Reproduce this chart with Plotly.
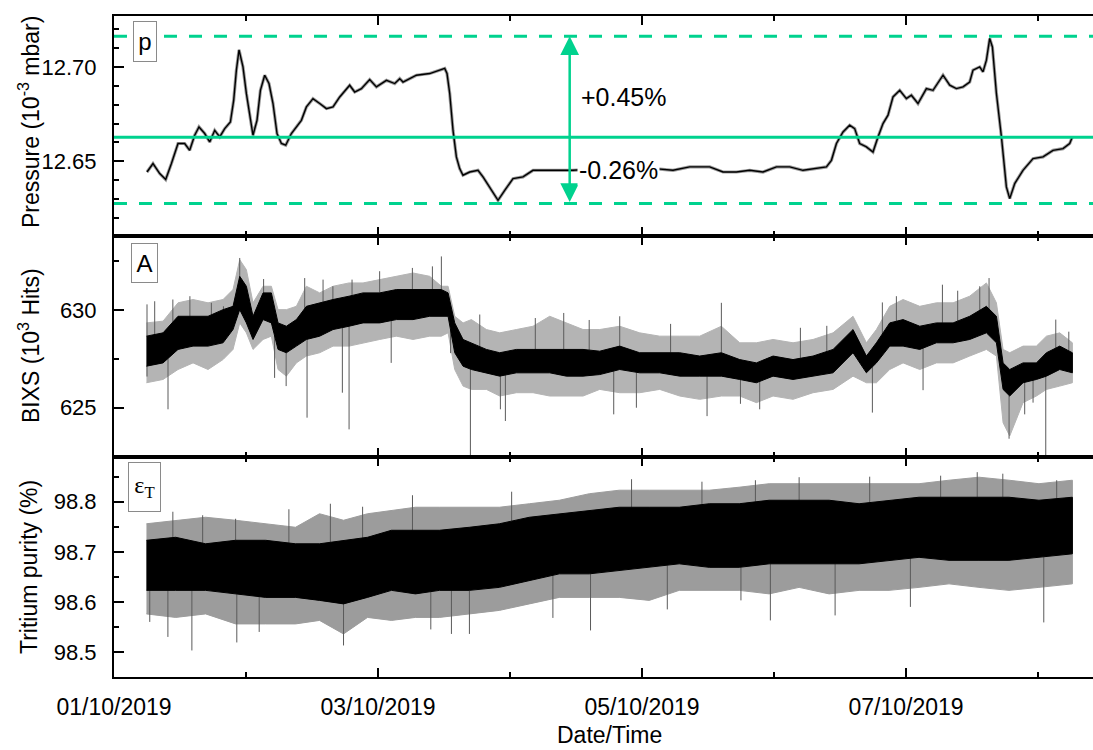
import numpy as np
import pandas as pd
import plotly.graph_objects as go
from plotly.subplots import make_subplots

T0 = pd.Timestamp("2019-10-01 00:00")
FONT = "Arial, Liberation Sans, sans-serif"
SERIF = "Times New Roman, Liberation Serif, serif"
GREEN = "#00D28E"

# ---------------- pressure (10^-3 mbar), hours since 01/10/2019 00:00 ----------------
p_hours = [6.00, 7.09, 8.31, 9.40, 10.44, 11.64, 12.85, 13.76, 14.67, 15.45,
           16.49, 17.40, 18.31, 19.22, 20.13, 21.16, 21.76, 22.25, 22.73, 23.45,
           24.07, 24.67, 25.27, 26.00, 26.62, 27.40, 28.18, 28.91, 29.64, 30.44,
           31.22, 32.25, 33.16, 34.07, 34.98, 36.18, 37.40, 38.62, 39.82, 41.04,
           42.85, 43.76, 44.98, 46.49, 47.71, 49.53, 51.04, 51.95, 52.55, 54.98,
           57.40, 59.22, 60.13, 60.55, 61.04, 61.64, 62.25, 62.85, 63.45, 64.67,
           66.18, 67.09, 68.31, 69.22, 69.82, 71.04, 72.55, 74.36, 76.18, 78.62,
           81.04, 83.45, 88.31, 93.76, 98.31, 101.64, 104.67, 108.31, 110.73, 113.16,
           115.58, 118.00, 120.44, 122.86, 125.27, 127.71, 129.53, 130.44, 131.35, 132.55,
           133.76, 134.67, 135.58, 136.80, 138.00, 138.91, 139.82, 140.73, 141.64, 142.86,
           144.07, 144.98, 146.18, 147.71, 148.91, 150.73, 151.95, 153.16, 154.36, 155.58,
           156.18, 157.40, 158.00, 158.62, 159.22, 159.71, 160.44, 161.35, 162.25, 162.86,
           163.77, 165.27, 167.09, 168.91, 170.73, 172.55, 173.76, 174.25]
p_vals = [12.6443, 12.6488, 12.6435, 12.6403, 12.6488, 12.6594, 12.6594, 12.6558, 12.6638, 12.6682,
          12.6647, 12.6602, 12.6664, 12.6629, 12.6673, 12.6708, 12.6823, 12.6983, 12.7090, 12.7000,
          12.6859, 12.6753, 12.6638, 12.6717, 12.6876, 12.6956, 12.6912, 12.6806, 12.6647, 12.6594,
          12.6585, 12.6647, 12.6682, 12.6717, 12.6788, 12.6832, 12.6806, 12.6779, 12.6788, 12.6841,
          12.6903, 12.6867, 12.6885, 12.6933, 12.6894, 12.6929, 12.6912, 12.6938, 12.6920, 12.6956,
          12.6965, 12.6983, 12.6992, 12.6965, 12.6859, 12.6664, 12.6523, 12.6461, 12.6426, 12.6443,
          12.6452, 12.6417, 12.6364, 12.6320, 12.6293, 12.6346, 12.6408, 12.6417, 12.6452, 12.6452,
          12.6452, 12.6452, 12.6461, 12.6452, 12.6461, 12.6452, 12.6470, 12.6470, 12.6443, 12.6443,
          12.6452, 12.6443, 12.6470, 12.6470, 12.6452, 12.6461, 12.6470, 12.6505, 12.6594, 12.6655,
          12.6691, 12.6673, 12.6594, 12.6576, 12.6549, 12.6629, 12.6700, 12.6744, 12.6841, 12.6876,
          12.6832, 12.6850, 12.6806, 12.6885, 12.6876, 12.6956, 12.6903, 12.6885, 12.6894, 12.6920,
          12.6983, 12.7000, 12.6974, 12.7036, 12.7151, 12.7106, 12.6859, 12.6629, 12.6364, 12.6302,
          12.6382, 12.6452, 12.6514, 12.6523, 12.6558, 12.6567, 12.6594, 12.6629]
p_mean = 12.6627
p_upper = 12.7163
p_lower = 12.6276
p_arrow_hour = 82.85
p_up_label = "+0.45%"
p_down_label = "-0.26%"

# ---------------- BIXS count rate (10^3 hits): dense band and its outer fringe ----------------
a_hours = [5.90, 8.92, 11.64, 14.37, 17.10, 19.83, 21.64, 22.86, 24.07, 25.28,
           27.10, 28.61, 29.83, 31.34, 33.16, 34.98, 37.40, 39.83, 42.74, 45.28,
           48.31, 51.34, 54.37, 57.40, 59.52, 60.74, 61.95, 63.47, 64.98, 67.71,
           70.13, 73.16, 76.19, 79.22, 82.25, 85.28, 88.31, 91.95, 95.58, 99.22,
           102.86, 106.49, 110.43, 113.77, 116.80, 119.83, 123.46, 127.10, 130.74, 134.37,
           136.80, 138.62, 141.04, 143.47, 146.50, 149.53, 152.56, 155.58, 158.62, 160.44,
           161.65, 162.86, 165.28, 167.71, 169.53, 171.95, 174.25]
a_core_hi = [628.67, 628.84, 629.69, 629.69, 629.69, 630.03, 630.20, 631.74, 631.23, 629.69,
             630.89, 630.89, 629.35, 629.18, 629.52, 630.20, 630.38, 630.55, 630.72, 630.89,
             630.89, 631.06, 631.06, 631.06, 631.06, 630.89, 629.35, 628.50, 628.33, 627.99,
             627.82, 627.99, 627.99, 627.99, 627.99, 627.99, 627.90, 628.16, 627.82, 627.82,
             627.82, 627.65, 627.82, 627.47, 627.30, 627.65, 627.47, 627.65, 627.99, 629.01,
             627.65, 628.33, 629.35, 629.52, 629.18, 629.35, 629.35, 629.69, 630.20, 629.69,
             627.30, 626.96, 627.30, 627.30, 627.82, 628.16, 627.82]
a_core_lo = [627.13, 627.30, 627.99, 628.16, 628.16, 628.33, 629.01, 630.03, 629.35, 628.50,
             629.52, 629.35, 627.99, 627.82, 628.16, 628.50, 628.67, 629.01, 629.18, 629.35,
             629.35, 629.52, 629.52, 629.69, 629.69, 629.69, 627.82, 627.13, 626.96, 626.79,
             626.62, 626.79, 626.79, 626.79, 626.62, 626.62, 626.70, 626.96, 626.79, 626.79,
             626.62, 626.62, 626.62, 626.45, 626.28, 626.62, 626.45, 626.62, 626.79, 627.82,
             626.79, 627.30, 628.16, 628.16, 627.99, 628.33, 628.33, 628.50, 628.84, 628.33,
             625.94, 625.60, 626.28, 626.45, 626.62, 626.96, 626.79]
a_outer_hi = [629.35, 629.44, 630.38, 630.55, 630.38, 630.55, 631.06, 632.59, 632.08, 630.38,
              631.23, 631.23, 630.03, 630.03, 630.20, 631.23, 630.89, 631.23, 631.40, 631.40,
              631.57, 631.74, 631.91, 631.74, 631.23, 631.23, 629.69, 629.35, 629.52, 629.01,
              628.84, 629.01, 629.18, 629.69, 629.35, 629.01, 629.01, 629.18, 628.84, 628.67,
              628.67, 628.67, 629.18, 628.33, 628.33, 628.50, 628.33, 628.50, 628.84, 629.69,
              628.33, 629.01, 630.20, 630.55, 630.20, 630.38, 630.38, 630.72, 631.40, 630.38,
              627.99, 627.82, 628.16, 628.16, 628.67, 628.84, 628.33]
a_outer_lo = [626.28, 626.45, 626.96, 627.30, 626.96, 627.47, 627.99, 629.35, 628.84, 627.99,
              628.50, 628.67, 626.96, 626.62, 627.30, 627.65, 627.82, 628.16, 628.16, 628.33,
              628.50, 628.67, 628.50, 628.67, 628.67, 628.84, 626.96, 626.11, 625.94, 625.94,
              625.60, 625.77, 625.77, 625.60, 625.60, 625.60, 625.94, 625.77, 625.77, 625.94,
              625.60, 625.43, 625.60, 625.60, 625.26, 625.60, 625.43, 625.77, 625.94, 626.62,
              626.28, 626.28, 626.96, 627.30, 626.96, 627.30, 627.30, 627.65, 627.99, 627.65,
              624.23, 623.55, 625.26, 625.60, 625.94, 626.11, 626.28]
# isolated single readings well outside the band
a_spike_hours = [6.00, 6.00, 7.40, 9.82, 10.70, 13.80, 17.70, 19.90, 22.86, 27.20,
                 29.20, 31.30, 34.67, 35.10, 38.01, 39.80, 41.52, 42.74, 43.28, 48.30,
                 50.40, 54.25, 57.89, 59.52, 61.20, 64.80, 66.50, 70.25, 71.16, 76.60,
                 81.77, 86.40, 90.86, 91.95, 94.98, 101.20, 107.83, 110.43, 113.90, 117.40,
                 124.80, 129.60, 137.89, 139.70, 142.25, 147.10, 150.62, 153.40, 157.41, 159.10,
                 162.74, 165.58, 167.10, 169.41, 171.23, 173.60]
a_spike_vals = [630.30, 626.60, 630.46, 624.92, 630.55, 630.72, 630.38, 630.20, 632.68, 631.60,
                626.53, 626.11, 631.65, 624.49, 631.57, 631.23, 625.77, 623.89, 631.57, 632.00,
                627.30, 632.17, 632.25, 632.76, 627.80, 622.30, 629.78, 624.92, 624.32, 629.60,
                629.86, 629.50, 624.66, 629.69, 625.00, 629.30, 624.57, 630.38, 625.20, 624.92,
                629.10, 629.20, 624.75, 630.40, 630.72, 625.90, 631.31, 631.00, 631.23, 631.65,
                623.41, 624.66, 625.26, 622.30, 629.52, 628.90]

# ---------------- tritium purity (%): dense band and its outer fringe ----------------
e_hours = [5.90, 11.21, 16.66, 22.11, 27.56, 33.01, 37.37, 41.73, 46.09, 50.45,
           54.81, 59.17, 64.62, 70.07, 75.52, 80.97, 86.42, 91.87, 97.32, 102.77,
           108.22, 113.67, 119.12, 124.57, 130.02, 135.47, 140.92, 146.37, 151.82, 157.27,
           162.72, 168.17, 174.25]
e_core_hi = [98.723, 98.729, 98.716, 98.723, 98.723, 98.716, 98.716, 98.723, 98.729, 98.743,
             98.743, 98.743, 98.749, 98.756, 98.769, 98.776, 98.783, 98.789, 98.789, 98.789,
             98.796, 98.796, 98.803, 98.803, 98.803, 98.796, 98.803, 98.809, 98.809, 98.809,
             98.809, 98.803, 98.809]
e_core_lo = [98.623, 98.623, 98.623, 98.616, 98.609, 98.609, 98.603, 98.596, 98.609, 98.623,
             98.616, 98.623, 98.623, 98.629, 98.643, 98.656, 98.656, 98.663, 98.669, 98.676,
             98.669, 98.669, 98.676, 98.676, 98.676, 98.676, 98.683, 98.689, 98.683, 98.683,
             98.683, 98.689, 98.696]
e_outer_hi = [98.756, 98.763, 98.769, 98.763, 98.756, 98.749, 98.776, 98.763, 98.776, 98.783,
              98.789, 98.789, 98.789, 98.789, 98.796, 98.803, 98.816, 98.823, 98.823, 98.823,
              98.823, 98.829, 98.836, 98.836, 98.836, 98.836, 98.836, 98.836, 98.843, 98.849,
              98.843, 98.836, 98.843]
e_outer_lo = [98.576, 98.569, 98.576, 98.556, 98.556, 98.556, 98.563, 98.536, 98.569, 98.563,
              98.569, 98.569, 98.576, 98.583, 98.596, 98.609, 98.609, 98.609, 98.603, 98.623,
              98.623, 98.623, 98.616, 98.629, 98.616, 98.623, 98.623, 98.629, 98.636, 98.629,
              98.623, 98.629, 98.636]
e_spike_hours = [6.50, 9.80, 10.70, 14.16, 16.12, 22.11, 22.33, 26.40, 31.80, 39.34,
                 41.73, 45.20, 54.27, 57.60, 61.35, 64.62, 72.30, 79.80, 86.64, 94.10,
                 100.60, 106.90, 113.99, 116.62, 119.34, 124.57, 131.11, 137.40, 144.80, 150.30,
                 156.95, 161.60, 169.05, 171.40]
e_spike_vals = [98.560, 98.530, 98.780, 98.503, 98.773, 98.766, 98.519, 98.540, 98.785, 98.796,
                98.513, 98.790, 98.813, 98.545, 98.536, 98.536, 98.820, 98.568, 98.543, 98.845,
                98.585, 98.840, 98.603, 98.843, 98.563, 98.849, 98.573, 98.850, 98.590, 98.852,
                98.859, 98.856, 98.559, 98.843]


def to_time(hours):
    return [T0 + pd.Timedelta(hours=float(h)) for h in hours]


def band(hours, hi, lo, color, row):
    t = to_time(hours)
    fig.add_trace(go.Scatter(x=t + t[::-1], y=list(hi) + list(lo)[::-1], fill="toself",
                             fillcolor=color, line=dict(color=color, width=1),
                             mode="lines", hoverinfo="skip", showlegend=False), row=row, col=1)


def spikes(hours, vals, band_hours, hi, lo, color, row):
    xs, ys = [], []
    for h, v in zip(hours, vals):
        top = float(np.interp(h, band_hours, hi))
        bot = float(np.interp(h, band_hours, lo))
        base = top if v > top else bot
        t = T0 + pd.Timedelta(hours=float(h))
        xs += [t, t, None]
        ys += [base, v, None]
    fig.add_trace(go.Scatter(x=xs, y=ys, mode="lines", line=dict(color=color, width=1),
                             hoverinfo="skip", showlegend=False), row=row, col=1)


fig = make_subplots(rows=3, cols=1, shared_xaxes=True, vertical_spacing=0)

# pressure panel
p_t = to_time(p_hours)
fig.add_trace(go.Scatter(x=p_t, y=p_vals, mode="lines", line=dict(color="#9a9a9a", width=3.2),
                         hoverinfo="skip", showlegend=False), row=1, col=1)
fig.add_trace(go.Scatter(x=p_t, y=p_vals, mode="lines", line=dict(color="black", width=1.4),
                         showlegend=False), row=1, col=1)

# BIXS panel
band(a_hours, a_outer_hi, a_outer_lo, "#b4b4b4", 2)
spikes(a_spike_hours, a_spike_vals, a_hours, a_core_hi, a_core_lo, "#5a5a5a", 2)
band(a_hours, a_core_hi, a_core_lo, "black", 2)

# purity panel
band(e_hours, e_outer_hi, e_outer_lo, "#9c9c9c", 3)
spikes(e_spike_hours, e_spike_vals, e_hours, e_core_hi, e_core_lo, "#5a5a5a", 3)
band(e_hours, e_core_hi, e_core_lo, "black", 3)

# reference lines for the pressure
shapes = [
    dict(type="line", xref="x domain", x0=0, x1=1, yref="y", y0=p_mean, y1=p_mean,
         line=dict(color=GREEN, width=3)),
    dict(type="line", xref="x domain", x0=0, x1=1, yref="y", y0=p_upper, y1=p_upper,
         line=dict(color=GREEN, width=3, dash="13px,12px")),
    dict(type="line", xref="x domain", x0=0, x1=1, yref="y", y0=p_lower, y1=p_lower,
         line=dict(color=GREEN, width=3, dash="13px,12px")),
]

x_end = T0 + pd.Timedelta(hours=178.0)
for r in (1, 2, 3):
    fig.update_xaxes(row=r, col=1, type="date", range=[T0, x_end], tick0=T0, dtick=2 * 86400000,
                     tickformat="%d/%m/%Y", showline=True, linecolor="black", linewidth=2,
                     mirror="allticks", ticks="inside", ticklen=9, tickwidth=1.5, tickcolor="black",
                     minor=dict(dtick=86400000, ticks="inside", ticklen=5, tickwidth=1.5,
                                tickcolor="black"),
                     showgrid=False, zeroline=False, showticklabels=(r == 3),
                     tickfont=dict(family=FONT, size=23, color="black"), ticklabelstandoff=8)

y_specs = {
    1: dict(range=[12.6102, 12.7270], tick0=12.65, dtick=0.05, minor=0.01, fmt=".2f"),
    2: dict(range=[622.49, 633.79], tick0=625, dtick=5, minor=2.5, fmt="d"),
    3: dict(range=[98.45, 98.89], tick0=98.5, dtick=0.1, minor=0.05, fmt=".1f"),
}
for r, s in y_specs.items():
    fig.update_yaxes(row=r, col=1, range=s["range"], tick0=s["tick0"], dtick=s["dtick"],
                     tickformat=s["fmt"], showline=True, linecolor="black", linewidth=2,
                     mirror=False, ticks="inside", ticklen=10, tickwidth=1.5, tickcolor="black",
                     minor=dict(dtick=s["minor"], ticks="inside", ticklen=5, tickwidth=1.5,
                                tickcolor="black"),
                     showgrid=False, zeroline=False,
                     tickfont=dict(family=FONT, size=22, color="black"), ticklabelstandoff=11)

L, T, B = 114, 16, 73
W, H = 1093, 750
PW, PH = W - L, H - T - B


def px(x):
    return (x - L) / PW


def py(y):
    return (H - B - y) / PH


title_font = dict(family=FONT, size=23, color="black")
ann = [
    dict(text="Pressure (10<sup>-3</sup> mbar)", x=px(29), y=py(122), textangle=-90),
    dict(text="BIXS (10<sup>3</sup> Hits)", x=px(29), y=py(346), textangle=-90),
    dict(text="Tritium purity (%)", x=px(29), y=py(567), textangle=-90),
    dict(text="Date/Time", x=px(609), y=py(735)),
]
annotations = []
for a in ann:
    a.update(xref="paper", yref="paper", showarrow=False, xanchor="center", yanchor="middle",
             font=title_font)
    annotations.append(a)

# boxed panel labels
for text, cx, cy, w, h, fam in [("p", 144.5, 41.9, 22, 39, FONT),
                                ("A", 144.7, 262.5, 25, 38, FONT),
                                ("ε<sub>T</sub>", 144.0, 486.5, 31, 48, SERIF)]:
    annotations.append(dict(text=text, xref="paper", yref="paper", x=px(cx), y=py(cy),
                            xanchor="center", yanchor="middle", showarrow=False,
                            width=w, height=h, borderpad=0, bordercolor="#8a8a8a", borderwidth=1,
                            bgcolor="white", font=dict(family=fam, size=24, color="black")))

# deviation arrow and labels
arrow_t = T0 + pd.Timedelta(hours=p_arrow_hour)
annotations.append(dict(x=arrow_t, y=p_upper, ax=arrow_t, ay=p_lower, xref="x", yref="y",
                        axref="x", ayref="y", text="", showarrow=True, arrowside="end+start",
                        arrowhead=2, arrowsize=1.5, arrowwidth=2.5, arrowcolor=GREEN,
                        standoff=0, startstandoff=0))
annotations.append(dict(text=p_up_label, xref="paper", yref="paper", x=px(579), y=py(97),
                        xanchor="left", yanchor="middle", showarrow=False,
                        font=dict(family=FONT, size=25, color="black")))
annotations.append(dict(text=p_down_label, xref="paper", yref="paper", x=px(577), y=py(170),
                        xanchor="left", yanchor="middle", showarrow=False, bgcolor="white",
                        borderpad=1, font=dict(family=FONT, size=25, color="black")))

fig.update_layout(width=W, height=H, margin=dict(l=L, r=0, t=T, b=B),
                  paper_bgcolor="white", plot_bgcolor="white", showlegend=False,
                  shapes=shapes, annotations=annotations)

fig.write_html("out.html")
